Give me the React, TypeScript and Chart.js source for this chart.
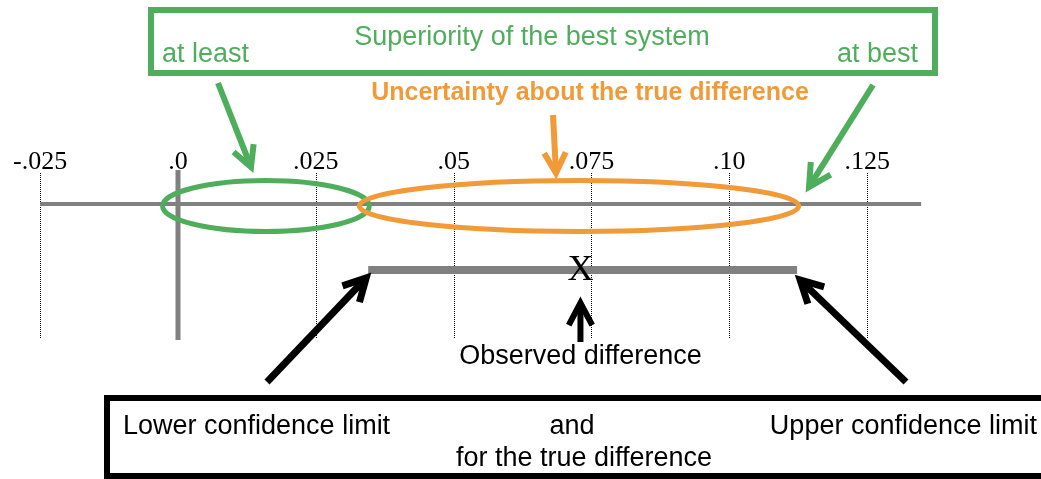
import React, { useEffect, useRef } from "react";
import { Chart, registerables } from "chart.js";

Chart.register(...registerables);

// ---------- data ----------
const TICK_VALUES = [-0.025, 0, 0.025, 0.05, 0.075, 0.1, 0.125];
const TICK_LABELS = ["-.025", ".0", ".025", ".05", ".075", ".10", ".125"];
const AXIS_RANGE = [-0.025, 0.1348];
const CI_LIMITS = [0.0345, 0.1123];
const OBSERVED = [0.073];
const GREEN_SPAN = [-0.0028, 0.0347];
const ORANGE_SPAN = [0.0329, 0.1126];

// ---------- layout (rows in canvas units) ----------
const X_MIN = -0.032287;
const X_MAX = 0.156539;
const AXIS_ROW = 204;
const BAR_ROW = 270;
const GRID_TOP = 173;
const GRID_BOTTOM = 339;
const ZERO_TOP = 170;
const ZERO_BOTTOM = 340;
const TICK_LABEL_ROW = 169;
const ELLIPSE_ROW = 206;
const ELLIPSE_RY = 25.5;

const GRAY = "#808080";
const GREEN = "#4FAE5C";
const ORANGE = "#F19A38";
const SANS = '"Liberation Sans", Arial, sans-serif';
const SERIF = '"Liberation Serif", "Times New Roman", serif';

function arrow(
  ctx: CanvasRenderingContext2D,
  x1: number, y1: number, x2: number, y2: number,
  color: string, width: number, head: number, angleDeg: number
) {
  const a = Math.atan2(y2 - y1, x2 - x1);
  const t = (angleDeg * Math.PI) / 180;
  ctx.save();
  ctx.strokeStyle = color;
  ctx.lineWidth = width;
  ctx.lineCap = "butt";
  ctx.lineJoin = "miter";
  ctx.beginPath();
  ctx.moveTo(x1, y1);
  ctx.lineTo(x2 - Math.cos(a) * width * 0.6, y2 - Math.sin(a) * width * 0.6);
  ctx.stroke();
  ctx.beginPath();
  ctx.moveTo(x2 - head * Math.cos(a - t), y2 - head * Math.sin(a - t));
  ctx.lineTo(x2, y2);
  ctx.lineTo(x2 - head * Math.cos(a + t), y2 - head * Math.sin(a + t));
  ctx.stroke();
  ctx.restore();
}

const diagramPlugin = {
  id: "diagram",
  beforeDatasetsDraw(chart: any) {
    const ctx: CanvasRenderingContext2D = chart.ctx;
    const xs = chart.scales.x;
    const ys = chart.scales.y;
    ctx.save();
    // dotted grid lines
    ctx.strokeStyle = "#000";
    ctx.lineWidth = 1;
    ctx.setLineDash([1, 1]);
    TICK_VALUES.forEach((v) => {
      const px = Math.round(xs.getPixelForValue(v)) + 0.5;
      ctx.beginPath();
      ctx.moveTo(px, ys.getPixelForValue(GRID_TOP));
      ctx.lineTo(px, ys.getPixelForValue(GRID_BOTTOM));
      ctx.stroke();
    });
    ctx.setLineDash([]);
    // tick labels
    ctx.fillStyle = "#000";
    ctx.font = `26px ${SERIF}`;
    ctx.textAlign = "center";
    ctx.textBaseline = "alphabetic";
    TICK_VALUES.forEach((v, i) => {
      ctx.fillText(TICK_LABELS[i], xs.getPixelForValue(v), ys.getPixelForValue(TICK_LABEL_ROW));
    });
    ctx.restore();
  },
  afterDatasetsDraw(chart: any) {
    const ctx: CanvasRenderingContext2D = chart.ctx;
    const xs = chart.scales.x;
    const ys = chart.scales.y;
    const Y = (r: number) => ys.getPixelForValue(r);
    ctx.save();

    // ellipses
    const drawEllipse = (span: number[], color: string) => {
      const l = xs.getPixelForValue(span[0]);
      const r = xs.getPixelForValue(span[1]);
      ctx.beginPath();
      ctx.ellipse((l + r) / 2, Y(ELLIPSE_ROW), (r - l) / 2, ELLIPSE_RY, 0, 0, Math.PI * 2);
      ctx.strokeStyle = color;
      ctx.lineWidth = 5;
      ctx.stroke();
    };
    drawEllipse(GREEN_SPAN, GREEN);
    drawEllipse(ORANGE_SPAN, ORANGE);

    // observed X
    const ox = xs.getPixelForValue(OBSERVED[0]);
    ctx.fillStyle = "#000";
    ctx.font = `36px ${SERIF}`;
    ctx.textAlign = "center";
    ctx.textBaseline = "middle";
    ctx.fillText("X", ox, Y(BAR_ROW) + 1);

    // observed difference arrow + label
    arrow(ctx, ox, Y(342), ox, Y(303), "#000", 6, 25, 28);
    ctx.font = `27px ${SANS}`;
    ctx.textBaseline = "alphabetic";
    ctx.fillText("Observed difference", ox, Y(364));

    // black arrows to the confidence limits
    const lx = xs.getPixelForValue(CI_LIMITS[0]);
    const ux = xs.getPixelForValue(CI_LIMITS[1]);
    arrow(ctx, 267, Y(382), lx - 2, Y(278), "#000", 7, 25, 28);
    arrow(ctx, 906, Y(382), ux + 3, Y(280), "#000", 7, 25, 28);

    // bottom box
    ctx.strokeStyle = "#000";
    ctx.lineWidth = 6;
    ctx.strokeRect(107, Y(398), 960, Y(476) - Y(398));
    ctx.fillStyle = "#000";
    ctx.font = `27px ${SANS}`;
    ctx.textAlign = "left";
    ctx.fillText("Lower confidence limit", 123, Y(434));
    ctx.textAlign = "center";
    ctx.fillText("and", 572, Y(434));
    ctx.fillText("for the true difference", 584, Y(466));
    ctx.textAlign = "right";
    ctx.fillText("Upper confidence limit", 1037, Y(434));

    // top green box
    ctx.strokeStyle = GREEN;
    ctx.lineWidth = 6;
    ctx.strokeRect(151, Y(10), 784, Y(73) - Y(10));
    ctx.fillStyle = GREEN;
    ctx.font = `27px ${SANS}`;
    ctx.textAlign = "center";
    ctx.fillText("Superiority of the best system", 532, Y(45));
    ctx.textAlign = "left";
    ctx.fillText("at least", 162, Y(62));
    ctx.textAlign = "right";
    ctx.fillText("at best", 918, Y(62));

    // orange title
    ctx.fillStyle = ORANGE;
    ctx.font = `bold 25px ${SANS}`;
    ctx.textAlign = "center";
    ctx.fillText("Uncertainty about the true difference", 590, Y(100));

    // annotation arrows
    arrow(ctx, 218, Y(83), 251, Y(167), GREEN, 6, 23, 28);
    arrow(ctx, 873, Y(85), 809, Y(187), GREEN, 6, 25, 28);
    arrow(ctx, 553, Y(115), 556, Y(173), ORANGE, 6, 23, 28);

    ctx.restore();
  },
};

export default function App() {
  const canvasRef = useRef<HTMLCanvasElement | null>(null);

  useEffect(() => {
    if (!canvasRef.current) return;
    const line = (pts: { x: number; y: number }[], width: number) => ({
      data: pts,
      showLine: true,
      borderColor: GRAY,
      borderWidth: width,
      borderCapStyle: "butt" as const,
      pointRadius: 0,
      fill: false,
    });
    const chart = new Chart(canvasRef.current, {
      type: "scatter",
      data: {
        datasets: [
          line(AXIS_RANGE.map((x) => ({ x, y: AXIS_ROW })), 4),
          line([{ x: 0, y: ZERO_TOP }, { x: 0, y: ZERO_BOTTOM }], 5),
          line(CI_LIMITS.map((x) => ({ x, y: BAR_ROW })), 8),
        ],
      },
      options: {
        animation: false,
        responsive: true,
        maintainAspectRatio: false,
        events: [],
        layout: { padding: 0 },
        plugins: { legend: { display: false }, tooltip: { enabled: false } },
        scales: {
          x: { type: "linear", display: false, min: X_MIN, max: X_MAX },
          y: { type: "linear", display: false, min: 0, max: 479, reverse: true },
        },
      },
      plugins: [diagramPlugin],
    });
    return () => chart.destroy();
  }, []);

  return (
    <div style={{ position: "absolute", left: 0, top: 0, width: 1041, height: 479, background: "#fff" }}>
      <canvas ref={canvasRef} />
    </div>
  );
}
